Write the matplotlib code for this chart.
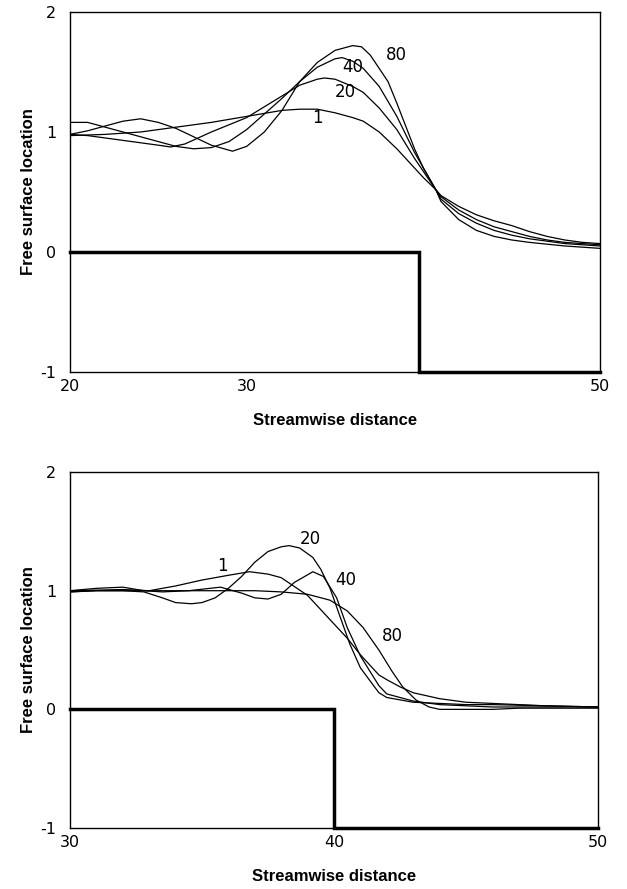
import matplotlib
matplotlib.use("Agg")
import matplotlib.pyplot as plt

plt.rcParams['axes.unicode_minus'] = False

# ---- top panel data ----
top_x1 = [20, 22, 24, 26, 28, 30, 32, 33, 34, 35, 36, 36.6, 37, 37.5, 38, 38.5, 39, 39.5, 40, 40.7,
          41, 42, 43, 44, 45, 46, 47, 48, 49, 50]
top_y1 = [0.97, 0.98, 1.0, 1.04, 1.08, 1.13, 1.18, 1.19, 1.19, 1.16, 1.12, 1.09, 1.05, 1.0, 0.93, 0.86,
          0.78, 0.7, 0.62, 0.52, 0.47, 0.38, 0.31, 0.26, 0.22, 0.17, 0.13, 0.1, 0.08, 0.07]

top_x20 = [20, 21, 22, 23, 24, 25, 25.7, 26.5, 28, 30, 32, 33, 34, 34.4, 35, 36, 36.6, 37.5, 38.5,
           39.5, 40.7, 41, 42, 43, 44, 45, 46, 47, 48, 50]
top_y20 = [0.98, 0.97, 0.95, 0.93, 0.91, 0.89, 0.875, 0.9, 1.0, 1.12, 1.3, 1.39, 1.44, 1.45, 1.44, 1.38,
           1.33, 1.2, 1.02, 0.78, 0.52, 0.46, 0.35, 0.27, 0.21, 0.17, 0.13, 0.1, 0.08, 0.06]

top_x40 = [20, 21, 22, 23, 24, 25, 26, 27, 28, 29, 30, 31, 32, 33, 34, 35, 35.4, 36, 36.6, 37.5,
           38.5, 39.5, 40.7, 41, 42, 43, 44, 45, 46, 48, 50]
top_y40 = [1.08, 1.08, 1.04, 1.0, 0.96, 0.92, 0.88, 0.86, 0.87, 0.92, 1.02, 1.15, 1.28, 1.42, 1.54, 1.61,
           1.62, 1.59, 1.53, 1.38, 1.13, 0.83, 0.52, 0.44, 0.32, 0.24, 0.18, 0.14, 0.11, 0.07, 0.05]

top_x80 = [20, 21, 22, 23, 24, 25, 26, 27, 28, 29.2, 30, 31, 32, 33, 34, 35, 36, 36.5, 37, 38,
           38.5, 39, 39.5, 40, 40.7, 41, 42, 43, 44, 45, 46, 48, 50]
top_y80 = [0.98, 1.01, 1.05, 1.09, 1.11, 1.08, 1.03, 0.96, 0.89, 0.84, 0.88, 1.0, 1.18, 1.42, 1.58, 1.68,
           1.72, 1.71, 1.64, 1.42, 1.24, 1.05, 0.86, 0.7, 0.52, 0.42, 0.27, 0.18, 0.13, 0.1, 0.08, 0.05, 0.03]

top_step_x = [20, 39.75, 39.75, 50]
top_step_y = [0, 0, -1, -1]

# ---- bottom panel data ----
bot_x1 = [30, 31, 32, 33, 34, 35, 36, 36.8, 37.5, 38, 39, 40, 40.5, 41, 41.7, 42, 42.5, 43, 44,
          45, 46, 47, 48, 50]
bot_y1 = [0.99, 1.0, 1.0, 1.0, 1.04, 1.09, 1.13, 1.16, 1.14, 1.11, 0.96, 0.72, 0.6, 0.46, 0.29, 0.25,
          0.19, 0.14, 0.09, 0.06, 0.05, 0.04, 0.03, 0.02]

bot_x20 = [30, 31, 32, 32.8, 33.5, 34, 34.6, 35, 35.5, 36, 36.5, 37, 37.5, 38, 38.3, 38.7, 39.2, 39.5,
           39.85, 40.2, 40.6, 41, 41.7, 42, 43, 44, 45, 46, 48, 50]
bot_y20 = [0.99, 1.0, 1.0, 0.99, 0.94, 0.9, 0.89, 0.9, 0.94, 1.02, 1.12, 1.24, 1.33, 1.37, 1.38, 1.36, 1.28,
           1.18, 1.02, 0.8, 0.55, 0.35, 0.14, 0.1, 0.06, 0.05, 0.04, 0.04, 0.03, 0.02]

bot_x40 = [30, 31, 32, 32.8, 33.5, 34.5, 35.7, 36.5, 37, 37.5, 38, 38.5, 39.2, 39.6, 40.1, 40.5, 41,
           41.7, 42, 43, 44, 45, 46, 48, 50]
bot_y40 = [1.0, 1.02, 1.03, 1.0, 0.99, 1.0, 1.03, 0.98, 0.94, 0.93, 0.97, 1.07, 1.16, 1.12, 0.94, 0.69,
           0.45, 0.2, 0.13, 0.07, 0.04, 0.03, 0.02, 0.02, 0.02]

bot_x80 = [30, 32, 33, 35, 37, 38, 39, 39.85, 40.5, 41.1, 41.7, 42.2, 42.6, 43.1, 43.6, 44, 45, 46,
           47, 50]
bot_y80 = [1.0, 1.01, 1.0, 1.0, 1.0, 0.99, 0.97, 0.92, 0.83, 0.69, 0.5, 0.32, 0.19, 0.08, 0.02, 0.0,
           0.0, 0.0, 0.01, 0.01]

bot_step_x = [30, 40, 40, 50]
bot_step_y = [0, 0, -1, -1]

top_labels = [("80", 38.5, 1.64), ("40", 36.0, 1.54), ("20", 35.6, 1.33), ("1", 34.0, 1.12)]
bot_labels = [("1", 35.76, 1.21), ("20", 39.1, 1.44), ("40", 40.45, 1.09), ("80", 42.2, 0.62)]

fig = plt.figure(figsize=(6.27, 8.89), dpi=100)
ax1 = fig.add_axes([0.1116, 0.5816, 0.8454, 0.4049])
ax2 = fig.add_axes([0.1116, 0.0686, 0.8422, 0.4004])


def style(ax, xlim, xticks):
    ax.set_xlim(*xlim)
    ax.set_ylim(-1, 2)
    ax.set_xticks(xticks)
    ax.set_yticks([-1, 0, 1, 2])
    ax.tick_params(length=0, labelsize=11.5)
    ax.tick_params(axis='x', pad=5)
    ax.tick_params(axis='y', pad=10)
    for s in ax.spines.values():
        s.set_linewidth(1.0)
        s.set_color('black')
    ax.set_xlabel('Streamwise distance', family='Liberation Sans', fontweight='bold',
                  fontsize=12, labelpad=14)
    ax.set_ylabel('Free surface location', family='Liberation Sans', fontweight='bold',
                  fontsize=12, labelpad=3)


lw = 0.9
ax1.plot(top_x1, top_y1, color='black', lw=lw)
ax1.plot(top_x20, top_y20, color='black', lw=lw)
ax1.plot(top_x40, top_y40, color='black', lw=lw)
ax1.plot(top_x80, top_y80, color='black', lw=lw)
ax1.plot(top_step_x, top_step_y, color='black', lw=2.5, solid_joinstyle='miter', clip_on=False)
for t, x, y in top_labels:
    ax1.text(x, y, t, fontsize=12, ha='center', va='center')
style(ax1, (20, 50), [20, 30, 50])

ax2.plot(bot_x1, bot_y1, color='black', lw=lw)
ax2.plot(bot_x20, bot_y20, color='black', lw=lw)
ax2.plot(bot_x40, bot_y40, color='black', lw=lw)
ax2.plot(bot_x80, bot_y80, color='black', lw=lw)
ax2.plot(bot_step_x, bot_step_y, color='black', lw=2.5, solid_joinstyle='miter', clip_on=False)
for t, x, y in bot_labels:
    ax2.text(x, y, t, fontsize=12, ha='center', va='center')
style(ax2, (30, 50), [30, 40, 50])

fig.savefig('out.png', dpi=100)
